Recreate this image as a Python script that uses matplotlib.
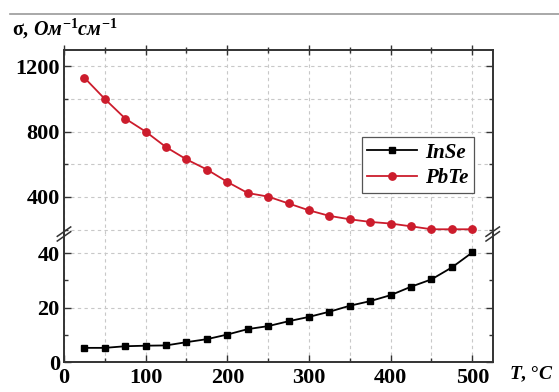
import matplotlib
matplotlib.use("Agg")
import matplotlib.pyplot as plt
from matplotlib.ticker import MultipleLocator
from matplotlib.lines import Line2D

plt.rcParams['font.family'] = ['Liberation Serif', 'DejaVu Serif']
plt.rcParams['mathtext.fontset'] = 'custom'
plt.rcParams['mathtext.it'] = 'Liberation Serif:bold:italic'
plt.rcParams['mathtext.rm'] = 'Liberation Serif:bold'
plt.rcParams['mathtext.bf'] = 'Liberation Serif:bold'

# Temperature, °C
temperature = [25, 50, 75, 100, 125, 150, 175, 200, 225, 250,
               275, 300, 325, 350, 375, 400, 425, 450, 475, 500]
# Conductivity, Ohm^-1 cm^-1
sigma_inse = [5.2, 5.2, 5.8, 6.0, 6.1, 7.3, 8.4, 10.1, 12.1, 13.2,
              15.0, 16.6, 18.5, 20.7, 22.4, 24.6, 27.7, 30.4, 34.8, 40.3]
sigma_pbte = [1130, 1000, 880, 800, 705, 630, 568, 492, 424, 402,
              360, 318, 284, 263, 247, 237, 220, 202, 202, 202]
series_names = ['InSe', 'PbTe']

RED = '#cc1c2c'
SPINE = '#333333'
LABEL_SIZE = 16

fig = plt.figure(figsize=(5.59, 3.92), dpi=100)
left, width = 64 / 559, (492.7 - 64) / 559
ax_lo = fig.add_axes([left, 30 / 392, width, 128 / 392])
ax_hi = fig.add_axes([left, 158 / 392, width, 184 / 392], sharex=ax_lo)

ax_lo.set_ylim(0, 47.1)
ax_hi.set_ylim(173, 1300)
ax_lo.set_xlim(0, 525)

for ax in (ax_lo, ax_hi):
    ax.plot(temperature, sigma_inse, color='black', lw=1.3, marker='s',
            ms=4.8, mfc='black', mec='black', label=series_names[0], zorder=3)
    ax.plot(temperature, sigma_pbte, color=RED, lw=1.3, marker='o',
            ms=5.3, mfc=RED, mec=RED, label=series_names[1], zorder=3)
    ax.xaxis.set_major_locator(MultipleLocator(100))
    ax.xaxis.set_minor_locator(MultipleLocator(50))
    ax.grid(True, which='both', axis='x', ls=(0, (3, 3)), color='#c8c8c8', lw=0.8)
    ax.grid(True, which='major', axis='y', ls=(0, (3, 3)), color='#c8c8c8', lw=0.8)
    for s in ax.spines.values():
        s.set_color(SPINE)
        s.set_linewidth(1.4)
    ax.tick_params(which='both', direction='in', color=SPINE, width=1.0,
                   labelsize=LABEL_SIZE, right=True, top=False)
    ax.tick_params(which='major', length=5)
    ax.tick_params(which='minor', length=3)

ax_lo.yaxis.set_major_locator(MultipleLocator(20))
ax_lo.yaxis.set_minor_locator(MultipleLocator(10))
ax_hi.yaxis.set_major_locator(MultipleLocator(400))
ax_hi.yaxis.set_minor_locator(MultipleLocator(200))
ax_hi.grid(True, which='minor', axis='y', ls=(0, (3, 3)), color='#c8c8c8', lw=0.8)

ax_lo.spines['top'].set_visible(False)
ax_hi.spines['bottom'].set_visible(False)
ax_hi.tick_params(axis='x', which='both', bottom=False, labelbottom=False,
                  top=True, direction='inout')
ax_hi.tick_params(axis='x', which='major', length=7)
ax_hi.tick_params(axis='x', which='minor', length=5)

for ax in (ax_lo, ax_hi):
    for lab in ax.get_yticklabels() + ax.get_xticklabels():
        lab.set_fontweight('bold')
ax_lo.tick_params(axis='x', pad=4)
ax_lo.tick_params(axis='y', pad=3)
ax_hi.tick_params(axis='y', pad=3)

# axis-break marks on both sides
yb = 158 / 392
for xs in (left, left + width):
    for dy in (-0.006, 0.006):
        fig.add_artist(Line2D([xs - 0.012, xs + 0.012],
                              [yb + dy - 0.012, yb + dy + 0.012],
                              color=SPINE, lw=1.1, transform=fig.transFigure))

leg = ax_hi.legend(loc='lower right', bbox_to_anchor=(474 / 559, (392 - 193) / 392),
                   bbox_transform=fig.transFigure, borderaxespad=0,
                   frameon=True, fancybox=False,
                   edgecolor='#555555', framealpha=1, borderpad=0.25,
                   handlelength=2.4, handletextpad=0.4, labelspacing=0.25,
                   prop={'family': 'Liberation Serif', 'weight': 'bold',
                         'style': 'italic', 'size': 15})
leg.get_frame().set_linewidth(0.9)

fig.text(12 / 559, 1 - 29 / 392, r'σ, $Ом^{-1}см^{-1}$', fontsize=14.5,
         fontweight='bold', va='center', ha='left')
fig.text(509 / 559, 1 - 374 / 392, r'$T$, °$C$', fontsize=14, fontweight='bold',
         va='center', ha='left')

# rule across the top of the panel
fig.add_artist(Line2D([10 / 559, 1.0], [1 - 14 / 392, 1 - 14 / 392],
                      color='#9a9a9a', lw=1.2, transform=fig.transFigure))

fig.savefig('out.png', dpi=100)
